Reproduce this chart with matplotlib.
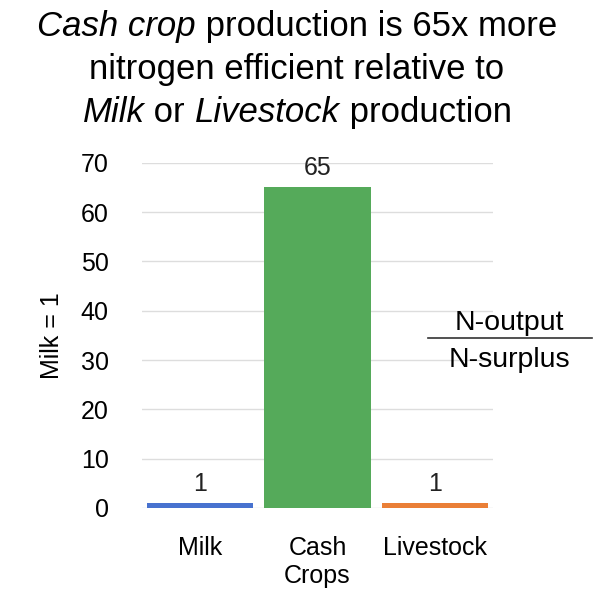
import matplotlib
matplotlib.use("Agg")
import matplotlib.pyplot as plt

plt.rcParams['font.family'] = ['Liberation Sans', 'DejaVu Sans']

# N-output / N-surplus, scaled so that milk = 1
categories = ["Milk", "Cash\nCrops", "Livestock"]
values = [1, 65, 1]
colors = ["#4872CF", "#55AA5A", "#EA7F37"]
yticks = [0, 10, 20, 30, 40, 50, 60, 70]

title_lines = [
    [("Cash crop", "italic"), (" production is 65x more", "normal")],
    [("nitrogen efficient relative to", "normal")],
    [("Milk", "italic"), (" or ", "normal"), ("Livestock", "italic"), (" production", "normal")],
]

fig = plt.figure(figsize=(5.94, 5.90), dpi=100)
ax = fig.add_axes([0.239, 0.139, 0.591, 0.585])

x = range(len(categories))
bars = ax.bar(x, values, width=0.9, color=colors, zorder=2)
for b, v in zip(bars, values):
    ax.text(b.get_x() + b.get_width() / 2, v + 1.5, str(v),
            ha="center", va="bottom", fontsize=18, color="#222222")

ax.set_ylim(0, 70)
ax.set_xlim(-0.49, 2.49)
ax.set_yticks(yticks)
ax.set_xticks(list(x))
ax.set_xticklabels(categories, fontsize=18, linespacing=1.2)
ax.tick_params(axis="y", labelsize=18, length=0, pad=24)
ax.tick_params(axis="x", length=0, pad=20)
ax.grid(axis="y", color="#dddddd", linewidth=1, zorder=0)
for s in ax.spines.values():
    s.set_visible(False)
ax.set_ylabel("Milk = 1", fontsize=18, labelpad=12)

# ratio shown as a fraction to the right of the bars
fig.text(509 / 594, 1 - 330 / 590, "N-output", ha="center", va="baseline", fontsize=20.5)
fig.text(509 / 594, 1 - 367 / 590, "N-surplus", ha="center", va="baseline", fontsize=20.5)
fig.add_artist(plt.Line2D([428 / 594, 592 / 594], [1 - 338 / 590] * 2,
                          color="#333333", linewidth=1.2))

# title with italic words, each line centred
fig.canvas.draw()
renderer = fig.canvas.get_renderer()
baselines = [36, 79, 122]
for parts, base in zip(title_lines, baselines):
    texts = []
    for s, style in parts:
        t = fig.text(0, 1 - base / 590, s, fontsize=25, style=style,
                     ha="left", va="baseline")
        texts.append(t)
    widths = [t.get_window_extent(renderer).width for t in texts]
    total = sum(widths)
    xpos = (594 - total) / 2
    for t, w in zip(texts, widths):
        t.set_x(xpos / 594)
        xpos += w

fig.savefig("out.png", dpi=100)
